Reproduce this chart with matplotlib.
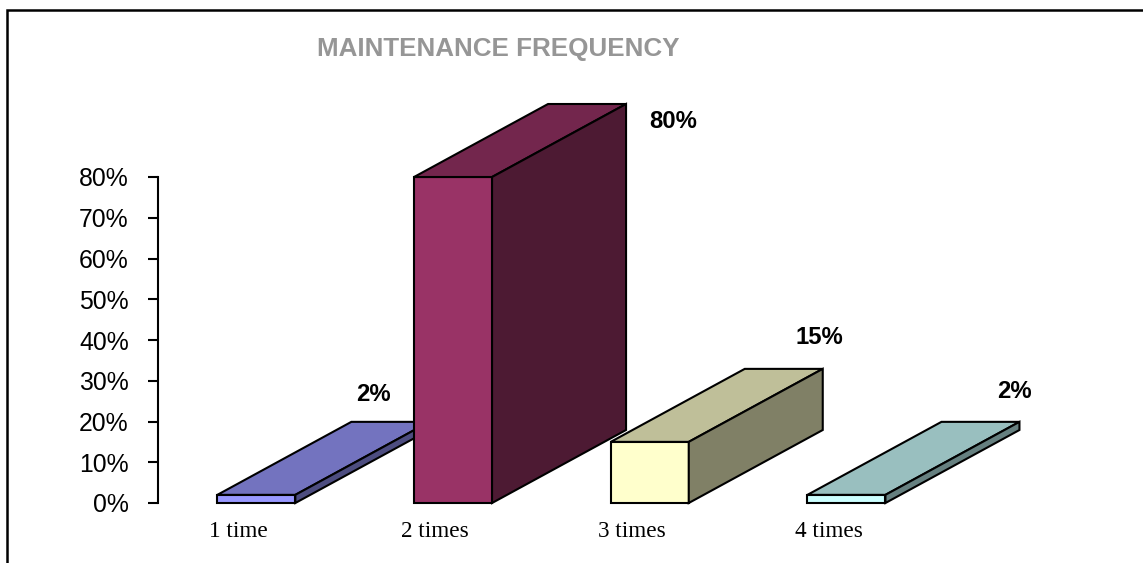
import matplotlib
matplotlib.use("Agg")
import matplotlib.pyplot as plt
from matplotlib.patches import Polygon
from matplotlib.lines import Line2D
from matplotlib.transforms import ScaledTranslation

categories = ["1 time", "2 times", "3 times", "4 times"]
values = [2, 80, 15, 2]
labels = ["2%", "80%", "15%", "2%"]
front_colors = ["#9999FF", "#993366", "#FFFFCC", "#CCFFFF"]
top_colors = ["#7373BF", "#73264D", "#BFBF99", "#99BFBF"]
side_colors = ["#4D4D80", "#4D1A33", "#808066", "#668080"]
yticks = [0, 10, 20, 30, 40, 50, 60, 70, 80]
title = "MAINTENANCE FREQUENCY"
label_offsets = [(-55.5, 27), (47, -17), (-3, 31), (-5, 30)]

W, H = 1143, 563
fig = plt.figure(figsize=(W / 100, H / 100), dpi=100, facecolor="white")
ax = fig.add_axes([158 / W, 1 - 503 / H, 786.8 / W, 326 / H])
ax.set_xlim(-0.5, 3.5)
ax.set_ylim(0, 80)
ax.patch.set_visible(False)

half = 39 / 196.7
dx = 134 / 196.7
dy = 73 / (326 / 80)

for i, v in enumerate(values):
    l, r = i - half, i + half
    common = dict(edgecolor="black", linewidth=1.5, joinstyle="miter", clip_on=False, zorder=2 + i)
    ax.add_patch(Polygon([(l, 0), (r, 0), (r, v), (l, v)], facecolor=front_colors[i], **common))
    ax.add_patch(Polygon([(l, v), (r, v), (r + dx, v + dy), (l + dx, v + dy)], facecolor=top_colors[i], **common))
    ax.add_patch(Polygon([(r, 0), (r + dx, dy), (r + dx, v + dy), (r, v)], facecolor=side_colors[i], **common))
    ax.annotate(labels[i], (r + dx, v + dy), xytext=label_offsets[i],
                textcoords="offset pixels", ha="center", va="center",
                fontfamily="Liberation Sans", fontweight="bold", fontsize=17.2,
                annotation_clip=False, zorder=10)

for s in ["top", "right", "bottom"]:
    ax.spines[s].set_visible(False)
ax.spines["left"].set_linewidth(1.5)
ax.set_yticks(yticks)
ax.set_yticklabels([f"{t}%" for t in yticks], fontfamily="Liberation Sans", fontsize=17.8)
ax.tick_params(axis="y", length=7, width=1.5, pad=14)
ax.set_xticks(range(len(categories)))
ax.set_xticklabels(categories, fontfamily="Liberation Serif", fontsize=16.7)
ax.tick_params(axis="x", length=0, pad=13)
shift = ScaledTranslation(-18 / 100, 0, fig.dpi_scale_trans)
for lab in ax.get_xticklabels():
    lab.set_transform(lab.get_transform() + shift)

fig.text(498.5 / W, 1 - 49 / H, title, ha="center", va="center", color="#969696",
         fontfamily="Liberation Sans", fontweight="bold", fontsize=18.7)

fig.add_artist(Line2D([7 / W, 7 / W, 1], [0, 1 - 10 / H, 1 - 10 / H], color="black",
                      linewidth=1.8, solid_joinstyle="miter"))
fig.savefig("out.png", dpi=100)
